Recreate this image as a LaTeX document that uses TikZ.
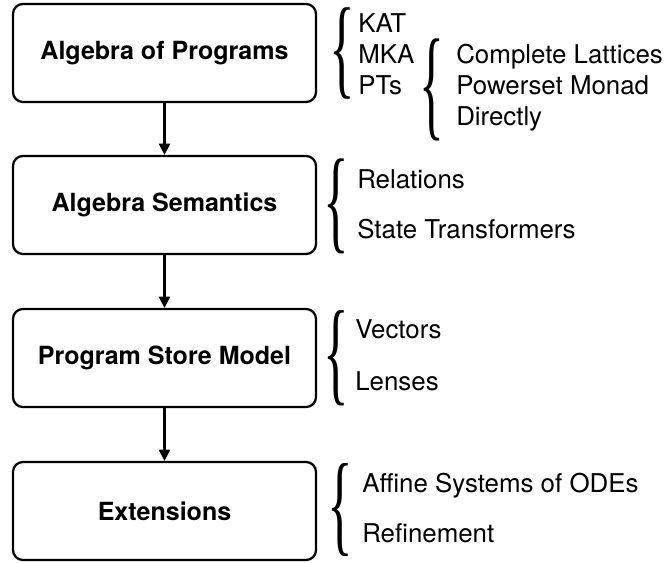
\documentclass[tikz,border=0pt]{standalone}
\usepackage{fontspec}
\usepackage{graphicx}
\setmainfont{TeX Gyre Heros}
\newfontfamily\bracefont{Liberation Serif}
\usetikzlibrary{arrows.meta}

% brace stretched to a given width and height
\newcommand{\curly}[2]{\resizebox{#1}{#2}{\bracefont\{}}

\begin{document}
\begin{tikzpicture}[x=0.025cm, y=-0.025cm,
  every node/.style={font=\fontsize{18.4}{22}\selectfont},
  stage/.style={draw, line width=1.6pt, rounded corners=0.25cm, minimum width=7.575cm, minimum height=2.45cm, font=\fontsize{17.8}{21}\selectfont\bfseries},
  item/.style={anchor=base west, inner sep=0pt},
  curly/.style={inner sep=0pt},
  flow/.style={line width=1.6pt, -{Triangle[length=8pt, width=8pt]}}]
\useasboundingbox (0,0) rectangle (667,563);

% stages
\node[stage] (alg) at (164.5,53) {Algebra of Programs};
\node[stage] (sem) at (164.5,205) {Algebra Semantics};
\node[stage] (store) at (164.5,358) {Program Store Model};
\node[stage] (ext) at (164.5,511) {Extensions};
\draw[flow] (alg) -- (sem);
\draw[flow] (sem) -- (store);
\draw[flow] (store) -- (ext);

% algebra of programs
\node[curly] (algB) at (342,53) {\curly{0.64cm}{1.92cm}};
\node[item] (kat) at (358,33) {KAT};
\node[item] (mka) at (358,64) {MKA};
\node[item] (pts) at (358,95) {PTs};
\node[curly] (ptsB) at (432,90) {\curly{0.62cm}{2.14cm}};
\node[item] (lat) at (456,64) {Complete Lattices};
\node[item] (mon) at (456,95) {Powerset Monad};
\node[item] (dir) at (456,126) {Directly};

% semantics
\node[curly] (semB) at (336,206) {\curly{0.64cm}{1.99cm}};
\node[item] (rel) at (357,189) {Relations};
\node[item] (st) at (357,239) {State Transformers};

% store model
\node[curly] (storeB) at (336,358) {\curly{0.64cm}{2.0cm}};
\node[item] (vec) at (355,339) {Vectors};
\node[item] (len) at (355,391) {Lenses};

% extensions
\node[curly] (extB) at (340,510) {\curly{0.64cm}{1.95cm}};
\node[item] (ode) at (362,493) {Affine Systems of ODEs};
\node[item] (ref) at (362,543) {Refinement};
\end{tikzpicture}
\end{document}
